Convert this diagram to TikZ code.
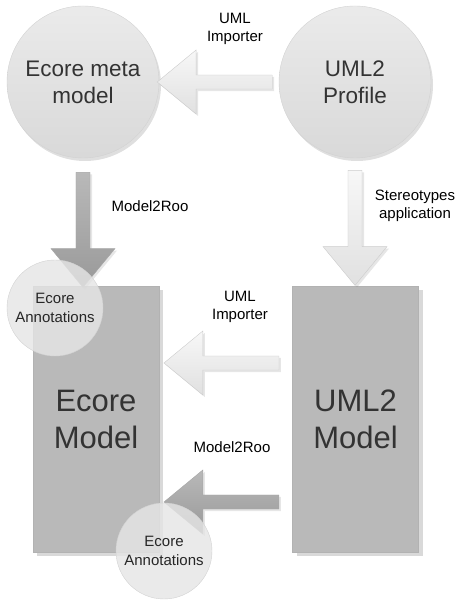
\documentclass[tikz,border=0pt]{standalone}
\usepackage{fontspec}
\setmainfont{Liberation Sans}
\usepackage{tikz}
\usetikzlibrary{calc,positioning,shapes.arrows,shadows}

\begin{document}
\begin{tikzpicture}[
      x=1pt, y=1pt,
      bigcirc/.style={circle, minimum size=152pt, inner sep=0, align=center,
        top color=gray!16, bottom color=gray!30, draw=gray!35,
        drop shadow={opacity=0.25, shadow xshift=2pt, shadow yshift=-3pt},
        text=black!80, font={\fontsize{22.5}{27}\selectfont}},
      annot/.style={circle, minimum size=96pt, inner sep=0, align=center,
        fill=gray!20, fill opacity=0.82, text opacity=1, draw=gray!35,
        text=black!85, font={\fontsize{15}{19}\selectfont}},
      model/.style={rectangle, minimum width=126pt, minimum height=266pt, align=center,
        fill=gray!55, draw=gray!60,
        drop shadow={opacity=0.3, shadow xshift=4pt, shadow yshift=-4pt},
        text=black!80, font={\fontsize{31}{37}\selectfont}},
      fatarrow/.style={single arrow, minimum height=115pt, minimum width=64pt,
        inner xsep=0pt, inner ysep=6pt, single arrow head extend=22pt, single arrow tip angle=79,
        drop shadow={opacity=0.2, shadow xshift=2pt, shadow yshift=-2pt}},
      light/.style={fatarrow, top color=gray!6, bottom color=gray!24, draw=gray!40},
      dark/.style={fatarrow, top color=gray!55, bottom color=gray!80, draw=gray!70},
      lab/.style={align=center, font={\fontsize{15}{18}\selectfont}}
  ]
  \useasboundingbox (0,0) rectangle (459,604);

  \node[bigcirc] (meta) at (83,522) {Ecore meta\\model};
  \node[bigcirc] (profile) at (355,522) {UML2\\Profile};

  \node[model] (emodel) at (96,185) {Ecore\\Model};
  \node[model] (umodel) at (355.5,185) {UML2\\Model};

  \node[light, shape border rotate=180] (imp1) at ($(meta.east)!0.5!(profile.west)$) {};
  \node[dark, rotate=-90, below=12pt of meta, xshift=2pt, anchor=west] (m2r1) {};
  \node[light, rotate=-90, below=12pt of profile, anchor=west] (stereo) {};
  \node[light, shape border rotate=180] (imp2) at ($(emodel.east)!0.5!(umodel.west)+(0,56)$) {};
  \node[dark, shape border rotate=180] (m2r2) at ($(emodel.east)!0.5!(umodel.west)+(0,-83)$) {};

  \node[annot] (ann1) at (55,296) {Ecore\\Annotations};
  \node[annot] (ann2) at (164,53) {Ecore\\Annotations};

  \node[lab] (lab1) at (235,575) {UML\\Importer};
  \node[lab] (lab2) at (150,398) {Model2Roo};
  \node[lab] (lab3) at (415,398) {Stereotypes\\application};
  \node[lab] (lab4) at (240,297) {UML\\Importer};
  \node[lab] (lab5) at (232,157) {Model2Roo};
\end{tikzpicture}
\end{document}
